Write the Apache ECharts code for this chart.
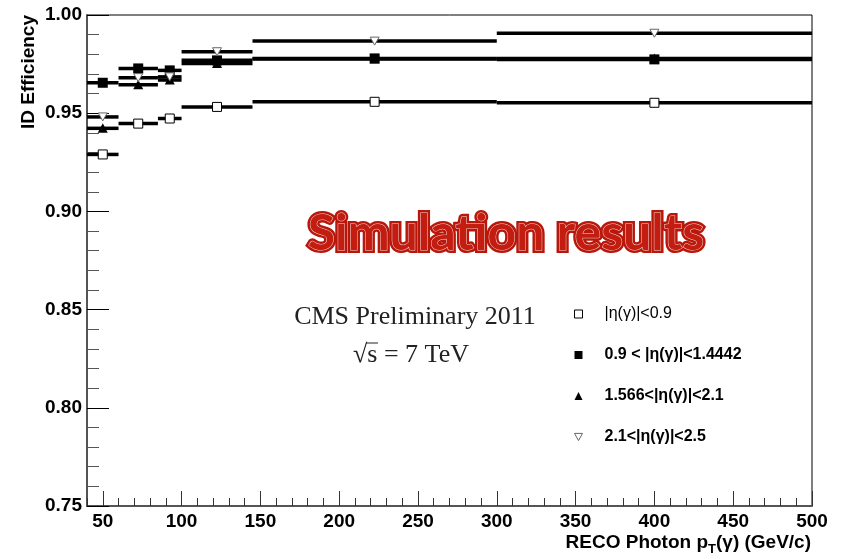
<!DOCTYPE html>
<html>
<head>
<meta charset="utf-8">
<script src="https://cdn.jsdelivr.net/npm/echarts@6/dist/echarts.min.js"></script>
<style>
  html, body { margin: 0; padding: 0; background: #fff; }
  #chart { width: 844px; height: 559px; }
</style>
</head>
<body>
<div id="chart"></div>
<script>
  // bins in pT (GeV/c)
  const binLow = [40, 60, 85, 100, 145, 300];
  const binHigh = [60, 85, 100, 145, 300, 500];
  const binCenter = [50, 72.5, 92.5, 122.5, 222.5, 400];

  // ID efficiency per eta region
  const effBarrel = [0.929, 0.9447, 0.9473, 0.9532, 0.9558, 0.9553];
  const effGap = [0.9655, 0.9728, 0.9718, 0.9769, 0.9779, 0.9774];
  const effEndcap = [0.9423, 0.9645, 0.9669, 0.9753, 0.9776, 0.9779];
  const effForward = [0.9481, 0.9681, 0.9685, 0.9813, 0.9867, 0.9907];

  const seriesNames = ['|η(γ)|<0.9', '0.9 < |η(γ)|<1.4442', '1.566<|η(γ)|<2.1', '2.1<|η(γ)|<2.5'];

  const yTicks = [0.75, 0.80, 0.85, 0.90, 0.95, 1.00];
  const xMajorTicks = [50, 100, 150, 200, 250, 300, 350, 400, 450, 500];

  const font = 'Liberation Sans, Arial, sans-serif';

  const toData = (eff) => binLow.map((lo, i) => [lo, binHigh[i], binCenter[i], eff[i]]);

  // marker shapes, centred on c
  const markers = [
    (c) => ({ type: 'rect', shape: { x: c[0] - 4.5, y: c[1] - 4.5, width: 9, height: 9 },
              style: { fill: '#fff', stroke: '#000', lineWidth: 1 } }),
    (c) => ({ type: 'rect', shape: { x: c[0] - 5, y: c[1] - 5, width: 10, height: 10 },
              style: { fill: '#000' } }),
    (c) => ({ type: 'polygon', shape: { points: [[c[0] - 5, c[1] + 4.5], [c[0] + 5, c[1] + 4.5], [c[0], c[1] - 5]] },
              style: { fill: '#000' } }),
    (c) => ({ type: 'polygon', shape: { points: [[c[0] - 4.5, c[1] - 4], [c[0] + 4.5, c[1] - 4], [c[0], c[1] + 4]] },
              style: { fill: '#fff', stroke: '#666', lineWidth: 1 } })
  ];

  const makeRender = (k) => (params, api) => {
    const y = api.value(3);
    const lo = api.coord([api.value(0), y]);
    const hi = api.coord([api.value(1), y]);
    const c = api.coord([api.value(2), y]);
    return {
      type: 'group',
      children: [
        { type: 'line', shape: { x1: lo[0], y1: lo[1], x2: hi[0], y2: hi[1] },
          style: { stroke: '#000', lineWidth: 3.5 } },
        markers[k](c)
      ]
    };
  };

  const allEff = [effBarrel, effGap, effEndcap, effForward];

  const chart = echarts.init(document.getElementById('chart'));

  chart.setOption({
    animation: false,
    grid: { left: 87, right: 32, top: 15, bottom: 53, show: true, borderColor: '#000', borderWidth: 1 },
    xAxis: [
      {
        type: 'value', min: 40, max: 500, interval: 10, position: 'bottom',
        axisLine: { lineStyle: { color: '#555', width: 2 } },
        axisTick: { inside: true, length: 8, lineStyle: { color: '#333' } },
        axisLabel: {
          margin: 6, color: '#000', fontFamily: font, fontWeight: 'bold', fontSize: 19,
          formatter: (v) => (xMajorTicks.indexOf(v) >= 0 ? String(v) : '')
        },
        splitLine: { show: false }
      },
      {
        type: 'value', min: 40, max: 500, position: 'bottom',
        axisLine: { show: false },
        axisTick: { inside: true, length: 15, customValues: xMajorTicks, lineStyle: { color: '#333' } },
        axisLabel: { show: false },
        splitLine: { show: false }
      }
    ],
    yAxis: {
      type: 'value', min: 0.75, max: 1.0, interval: 0.05,
      axisLine: { show: true, lineStyle: { color: '#555', width: 2 } },
      axisTick: { inside: true, length: 22, lineStyle: { color: '#000' } },
      minorTick: { show: true, splitNumber: 5, length: 12, lineStyle: { color: '#555' } },
      axisLabel: {
        margin: 5, color: '#000', fontFamily: font, fontWeight: 'bold', fontSize: 19,
        customValues: yTicks,
        formatter: (v) => v.toFixed(2)
      },
      splitLine: { show: false },
      minorSplitLine: { show: false }
    },
    legend: {
      orient: 'vertical', left: 569, top: 301, itemWidth: 8, itemHeight: 8, itemGap: 25,
      selectedMode: false,
      textStyle: { fontFamily: font, fontSize: 16, color: '#000', fontWeight: 'bold', padding: [0, 0, 0, 17] },
      data: [
        { name: seriesNames[0], icon: 'rect', itemStyle: { color: '#fff', borderColor: '#000', borderWidth: 1 },
          textStyle: { fontWeight: 'normal' } },
        { name: seriesNames[1], icon: 'rect', itemStyle: { color: '#000' } },
        { name: seriesNames[2], icon: 'triangle', itemStyle: { color: '#000' } },
        { name: seriesNames[3], icon: 'path://M0,0 L10,0 L5,9 Z',
          itemStyle: { color: '#fff', borderColor: '#666', borderWidth: 1 } }
      ]
    },
    series: allEff.map((eff, k) => ({
      type: 'custom',
      name: seriesNames[k],
      xAxisIndex: 0,
      renderItem: makeRender(k),
      encode: { x: [0, 1, 2], y: 3 },
      itemStyle: { color: '#000' },
      data: toData(eff)
    })),
    graphic: [
      { type: 'text', x: 29, y: 15, rotation: Math.PI / 2,
        style: { text: 'ID Efficiency', fontFamily: font, fontWeight: 'bold', fontSize: 19,
                 fill: '#000', align: 'right', verticalAlign: 'middle' } },
      { type: 'text', x: 811, y: 543,
        style: {
          text: 'RECO Photon p{sub|T}(γ) (GeV/c)', align: 'right', verticalAlign: 'middle',
          fontFamily: font, fontWeight: 'bold', fontSize: 19, fill: '#000',
          rich: { sub: { fontFamily: font, fontWeight: 'bold', fontSize: 13, fill: '#000', padding: [12, 0, 0, 0] } }
        } },
      { type: 'text', x: 415, y: 317,
        style: { text: 'CMS Preliminary 2011', fontFamily: 'Liberation Serif, serif', fontSize: 26,
                 fill: '#222', align: 'center', verticalAlign: 'middle' } },
      { type: 'text', x: 411, y: 355,
        style: { text: '√s = 7 TeV', fontFamily: 'Liberation Serif, serif', fontSize: 26,
                 fill: '#222', align: 'center', verticalAlign: 'middle' } },
      { type: 'line', shape: { x1: 366, y1: 343, x2: 378, y2: 343 }, style: { stroke: '#222', lineWidth: 1 } },
      { type: 'text', x: 506, y: 234,
        style: { text: 'Simulation results', fontFamily: 'Lato, Open Sans, sans-serif', fontWeight: 'bold',
                 fontSize: 50, fill: '#b8170b', stroke: '#b8170b', lineWidth: 6, lineJoin: 'round',
                 align: 'center', verticalAlign: 'middle',
                 shadowBlur: 4, shadowColor: 'rgba(0,0,0,0.45)', shadowOffsetX: 1, shadowOffsetY: 3 } },
      { type: 'text', x: 506, y: 234,
        style: { text: 'Simulation results', fontFamily: 'Lato, Open Sans, sans-serif', fontWeight: 'bold',
                 fontSize: 50, fill: '#c21d10', stroke: '#f6d2cc', lineWidth: 1, lineJoin: 'round',
                 align: 'center', verticalAlign: 'middle' } }
    ]
  });
</script>
</body>
</html>
